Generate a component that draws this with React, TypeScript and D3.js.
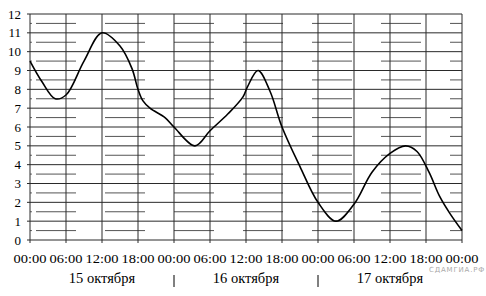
import React from "react";
import * as d3 from "d3";

const HOURS = [0, 2, 4.2, 6, 9, 12, 15, 17, 18, 18.8, 20, 22.5, 24, 27.5, 30, 33, 35.5, 36.2, 38, 40, 42, 45, 48, 51, 54, 57, 60, 62.6, 64.5, 66.5, 68.3, 70, 72];
const LEVEL = [9.5, 8.4, 7.5, 7.7, 9.5, 11.0, 10.3, 9.1, 8.0, 7.4, 7.0, 6.5, 6.0, 5.0, 5.8, 6.7, 7.6, 8.1, 9.0, 7.9, 6.0, 3.9, 2.0, 1.0, 1.9, 3.6, 4.6, 5.0, 4.7, 3.6, 2.3, 1.4, 0.5];
const TICK_HOURS = [0, 6, 12, 18, 24, 30, 36, 42, 48, 54, 60, 66, 72];
const TICK_LABELS = ["00:00", "06:00", "12:00", "18:00", "00:00", "06:00", "12:00", "18:00", "00:00", "06:00", "12:00", "18:00", "00:00"];
const Y_TICKS = [0, 1, 2, 3, 4, 5, 6, 7, 8, 9, 10, 11, 12];
const DAY_LABELS = ["15 октября", "16 октября", "17 октября"];
const DAY_CENTERS = [12, 36, 60];
const DAY_SEPARATORS = [24, 48];

export default function App() {
  const W = 486, H = 296;
  const x = d3.scaleLinear().domain([0, 72]).range([30, 462]);
  const y = d3.scaleLinear().domain([0, 12]).range([240, 14]);
  const pts: [number, number][] = HOURS.map((h, i) => [h, LEVEL[i]]);
  const line = d3.line<[number, number]>().x(d => x(d[0])).y(d => y(d[1])).curve(d3.curveCatmullRom.alpha(0.5));
  const halves = Y_TICKS.slice(0, -1).map(v => v + 0.5);
  const serif = "'Liberation Serif', 'Times New Roman', serif";

  return (
    <svg width={W} height={H} style={{ position: "absolute", left: 0, top: 0, background: "#fff" }}>
      {halves.map(v => (
        <g key={"h" + v}>
          <line x1={x(0)} x2={x(0) + 2} y1={y(v)} y2={y(v)} stroke="#666" strokeWidth={1} />
          <line x1={x(0) + 6} x2={x(72)} y1={y(v)} y2={y(v)} stroke="#555" strokeWidth={1} strokeDasharray="40 29" />
        </g>
      ))}
      {Y_TICKS.map(v => (
        <line key={"g" + v} x1={x(0) - 3} x2={x(72)} y1={y(v)} y2={y(v)} stroke="#2a2a2a" strokeWidth={1} />
      ))}
      {TICK_HOURS.map(h => (
        <line key={"v" + h} x1={x(h)} x2={x(h)} y1={y(12)} y2={y(0) + 3} stroke="#2a2a2a" strokeWidth={1} />
      ))}
      <path d={line(pts) || ""} fill="none" stroke="#000" strokeWidth={1.6} />
      {Y_TICKS.map(v => (
        <text key={"yl" + v} x={21} y={y(v) + 4.5} textAnchor="end" fontFamily={serif} fontSize={13} fill="#000">{v}</text>
      ))}
      {TICK_HOURS.map((h, i) => (
        <text key={"xl" + i} x={x(h)} y={263} textAnchor="middle" fontFamily={serif} fontSize={13.5} textLength={33} lengthAdjust="spacingAndGlyphs" fill="#000">{TICK_LABELS[i]}</text>
      ))}
      {DAY_LABELS.map((d, i) => (
        <text key={"d" + i} x={x(DAY_CENTERS[i])} y={283} textAnchor="middle" fontFamily={serif} fontSize={14.5} fill="#000">{d}</text>
      ))}
      {DAY_SEPARATORS.map(h => (
        <line key={"s" + h} x1={x(h)} x2={x(h)} y1={275} y2={287} stroke="#000" strokeWidth={1} />
      ))}
      <text x={485} y={272} textAnchor="end" fontFamily="'DejaVu Sans', sans-serif" fontSize={7} letterSpacing={0.8} fill="#aaa">СДАМГИА.РФ</text>
    </svg>
  );
}
